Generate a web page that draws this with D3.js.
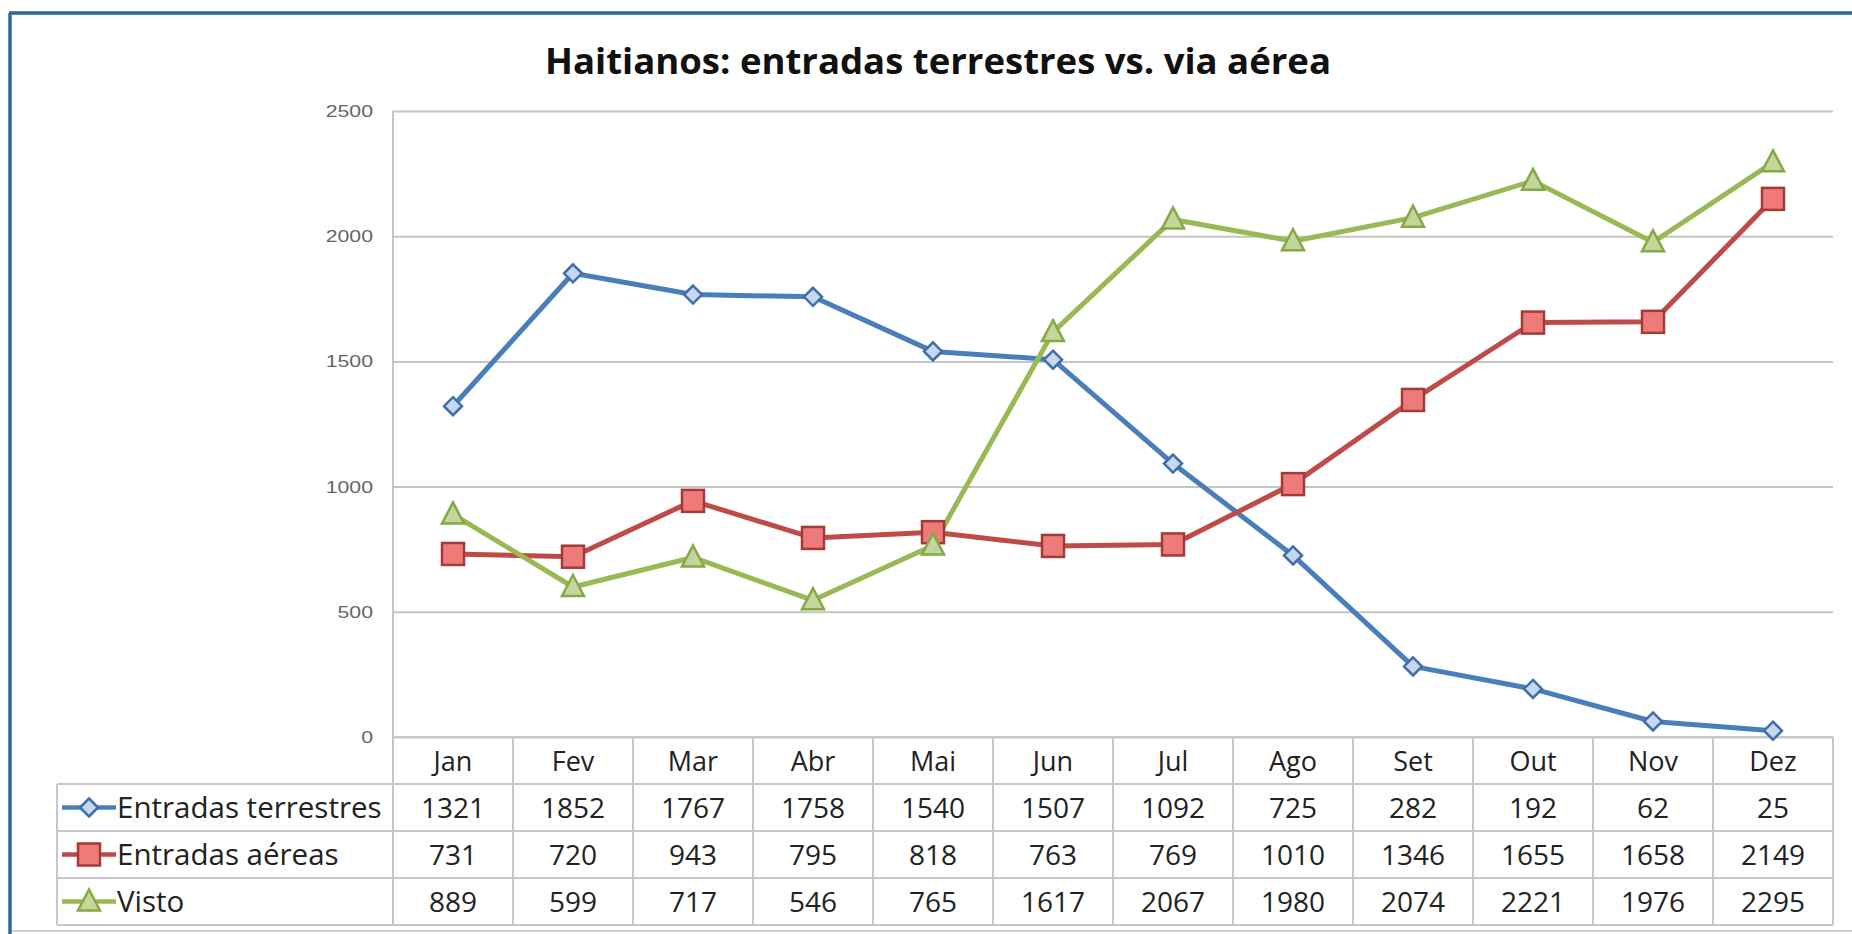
<!DOCTYPE html>
<html>
<head>
<meta charset="utf-8">
<script src="https://cdn.jsdelivr.net/npm/d3@7"></script>
<style>
  body { margin: 0; background: #fff; }
  svg { display: block; }
  .tick_label { font-family: "Liberation Sans", sans-serif; fill: #666; }
  .table_text { font-family: "Open Sans", sans-serif; fill: #222; }
</style>
</head>
<body>
<div id="chart"></div>
<script>
var months = ["Jan", "Fev", "Mar", "Abr", "Mai", "Jun", "Jul", "Ago", "Set", "Out", "Nov", "Dez"]
var terrestres = [1321, 1852, 1767, 1758, 1540, 1507, 1092, 725, 282, 192, 62, 25]
var aereas = [731, 720, 943, 795, 818, 763, 769, 1010, 1346, 1655, 1658, 2149]
var visto = [889, 599, 717, 546, 765, 1617, 2067, 1980, 2074, 2221, 1976, 2295]
var yTicks = [0, 500, 1000, 1500, 2000, 2500]
var seriesNames = ["Entradas terrestres", "Entradas aéreas", "Visto"]

var series = [
  { name: seriesNames[0], values: terrestres, line: "#4a7ebb", stroke: "#3f6fa8", fill: "#c6d7ee", marker: "diamond" },
  { name: seriesNames[1], values: aereas, line: "#be4b48", stroke: "#a33a38", fill: "#ee7b7a", marker: "square" },
  { name: seriesNames[2], values: visto, line: "#98b954", stroke: "#86a845", fill: "#c3d69b", marker: "triangle" }
]

var W = 1852, H = 934
var plot = { left: 393, right: 1833, top: 111, bottom: 737 }
var rowH = 47
var tableLeft = 57

var svg = d3.select("#chart").append("svg")
  .attr("width", W)
  .attr("height", H)

// frame
svg.append("rect").attr("x", 0).attr("y", 0).attr("width", W).attr("height", H).attr("fill", "#fff")
svg.append("line").attr("x1", 9).attr("y1", 13).attr("x2", W).attr("y2", 13)
  .attr("stroke", "#2f6a94").attr("stroke-width", 3.5)
svg.append("line").attr("x1", 10).attr("y1", 13).attr("x2", 10).attr("y2", H)
  .attr("stroke", "#2f6a94").attr("stroke-width", 3.5)
svg.append("line").attr("x1", 12).attr("y1", 931).attr("x2", W).attr("y2", 931)
  .attr("stroke", "#d0d0d0").attr("stroke-width", 2)

// title
svg.append("text")
  .attr("x", 938)
  .attr("y", 74)
  .attr("text-anchor", "middle")
  .attr("textLength", 786)
  .attr("lengthAdjust", "spacingAndGlyphs")
  .style("font-family", "'Open Sans', sans-serif")
  .style("font-weight", "bold")
  .style("font-size", "35px")
  .style("fill", "#111")
  .text("Haitianos: entradas terrestres vs. via aérea")

var x = d3.scaleBand().domain(months).range([plot.left, plot.right])
var y = d3.scaleLinear().domain([0, 2500]).range([plot.bottom, plot.top])
var cx = function (m) { return x(m) + x.bandwidth() / 2 }

// y axis + gridlines
var yAxis = svg.append("g")
  .attr("transform", "translate(" + plot.left + ",0)")
  .call(d3.axisLeft(y).tickValues(yTicks).tickFormat(d3.format("d"))
    .tickSize(-(plot.right - plot.left)).tickPadding(20))
yAxis.select(".domain").remove()
yAxis.selectAll(".tick line").attr("stroke", "#c4c4c4").attr("stroke-width", 2)
yAxis.selectAll(".tick text")
  .attr("class", "tick_label")
  .style("font-size", "17px")
  .attr("transform", "scale(1.25,1)")
  .attr("x", function () { return -20 / 1.25 })
  .attr("dx", 0)

// left axis line through table
svg.append("line")
  .attr("x1", plot.left).attr("y1", plot.top)
  .attr("x2", plot.left).attr("y2", plot.bottom + rowH * 4)
  .attr("stroke", "#c4c4c4").attr("stroke-width", 2)

// data table grid
var grid = svg.append("g").attr("class", "table_grid")
  .attr("stroke", "#c8c8c8").attr("stroke-width", 2)
grid.append("line").attr("x1", plot.left).attr("x2", plot.right)
  .attr("y1", plot.bottom).attr("y2", plot.bottom)
for (var r = 1; r <= 4; r++) {
  grid.append("line").attr("x1", tableLeft).attr("x2", plot.right)
    .attr("y1", plot.bottom + rowH * r).attr("y2", plot.bottom + rowH * r)
}
grid.append("line").attr("x1", tableLeft).attr("x2", tableLeft)
  .attr("y1", plot.bottom + rowH).attr("y2", plot.bottom + rowH * 4)
months.forEach(function (m) {
  grid.append("line").attr("x1", x(m) + x.bandwidth()).attr("x2", x(m) + x.bandwidth())
    .attr("y1", plot.bottom).attr("y2", plot.bottom + rowH * 4)
})

// month labels
svg.selectAll(".month_label").data(months).enter().append("text")
  .attr("class", "table_text month_label")
  .attr("x", function (d) { return cx(d) })
  .attr("y", plot.bottom + rowH / 2 + 10)
  .attr("text-anchor", "middle")
  .style("font-size", "27px")
  .text(function (d) { return d })

function drawMarker(g, type, px, py, s) {
  var el
  if (type === "diamond") {
    el = g.append("path").attr("d", "M" + px + "," + (py - 9) + "L" + (px + 9) + "," + py + "L" + px + "," + (py + 9) + "L" + (px - 9) + "," + py + "Z")
  } else if (type === "square") {
    el = g.append("rect").attr("x", px - 11).attr("y", py - 11).attr("width", 22).attr("height", 22)
  } else {
    el = g.append("path").attr("d", "M" + px + "," + (py - 12) + "L" + (px + 11) + "," + (py + 9) + "L" + (px - 11) + "," + (py + 9) + "Z")
  }
  el.attr("fill", s.fill).attr("stroke", s.stroke).attr("stroke-width", 2.5)
}

// value rows with legend keys
series.forEach(function (s, i) {
  var rowY = plot.bottom + rowH * (i + 1) + rowH / 2
  var key = svg.append("g").attr("class", "legend_key")
  key.append("line").attr("x1", 62).attr("x2", 116).attr("y1", rowY).attr("y2", rowY)
    .attr("stroke", s.line).attr("stroke-width", 4.5)
  drawMarker(key, s.marker, 89, rowY, s)
  svg.append("text")
    .attr("class", "table_text")
    .attr("x", 117)
    .attr("y", rowY + 10)
    .style("font-size", "29.5px")
    .text(s.name)
  svg.selectAll(".val_" + i).data(s.values).enter().append("text")
    .attr("class", "table_text val_" + i)
    .attr("x", function (d, j) { return cx(months[j]) })
    .attr("y", rowY + 10)
    .attr("text-anchor", "middle")
    .style("font-size", "28px")
    .text(function (d) { return d })
})

// lines and markers
var line = d3.line()
  .x(function (d, j) { return cx(months[j]) })
  .y(function (d) { return y(d) })

series.forEach(function (s) {
  svg.append("path")
    .datum(s.values)
    .attr("d", line)
    .attr("fill", "none")
    .attr("stroke", s.line)
    .attr("stroke-width", 5)
    .attr("stroke-linejoin", "round")
})
series.forEach(function (s) {
  var g = svg.append("g").attr("class", "markers")
  s.values.forEach(function (v, j) {
    drawMarker(g, s.marker, cx(months[j]), y(v), s)
  })
})
</script>
</body>
</html>
